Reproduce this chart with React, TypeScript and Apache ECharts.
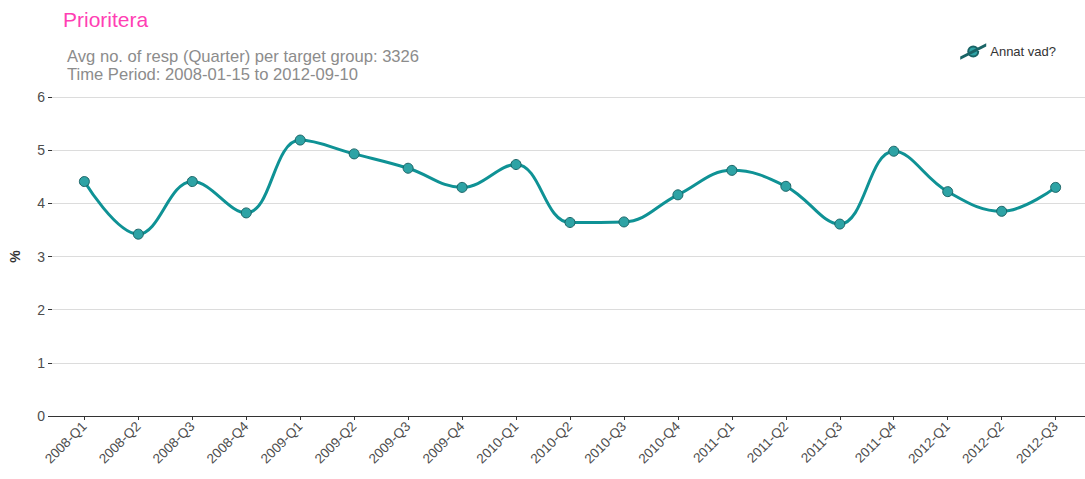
import React, { useEffect, useRef } from "react";
import * as echarts from "echarts";

const categories = [
  "2008-Q1", "2008-Q2", "2008-Q3", "2008-Q4",
  "2009-Q1", "2009-Q2", "2009-Q3", "2009-Q4",
  "2010-Q1", "2010-Q2", "2010-Q3", "2010-Q4",
  "2011-Q1", "2011-Q2", "2011-Q3", "2011-Q4",
  "2012-Q1", "2012-Q2", "2012-Q3",
];
const seriesName = "Annat vad?";
const values = [
  4.41, 3.42, 4.41, 3.82,
  5.19, 4.93, 4.66, 4.30,
  4.73, 3.64, 3.65, 4.16,
  4.62, 4.32, 3.61, 4.98,
  4.22, 3.85, 4.30,
];
const yTicks = [0, 1, 2, 3, 4, 5, 6];
const titleText = "Prioritera";
const subtitleLines = [
  "Avg no. of resp (Quarter) per target group: 3326",
  "Time Period: 2008-01-15 to 2012-09-10",
];

const FONT = "Liberation Sans, Arial, sans-serif";

export default function App() {
  const ref = useRef<HTMLDivElement>(null);
  useEffect(() => {
    if (!ref.current) return;
    const chart = echarts.init(ref.current, undefined, { renderer: "svg" });
    const idx = categories.map((_, i) => i);
    chart.setOption({
      animation: false,
      backgroundColor: "#ffffff",
      title: [
        {
          text: titleText,
          left: 58,
          top: 4,
          textStyle: { color: "#ff3fb4", fontSize: 21, fontWeight: "normal", fontFamily: FONT },
        },
        {
          text: subtitleLines.join("\n"),
          left: 62,
          top: 42,
          textStyle: {
            color: "#8c8c8c",
            fontSize: 16.6,
            lineHeight: 18,
            fontWeight: "normal",
            fontFamily: FONT,
          },
        },
      ],
      legend: {
        right: 24,
        top: 39,
        itemWidth: 24,
        itemHeight: 14,
        itemGap: 4,
        icon: "path://M0,13.2 L24,1 L24,2 L0,14.2 Z M12,7.6 m-5,0 a5,5 0 1,0 10,0 a5,5 0 1,0 -10,0",
        textStyle: { color: "#333333", fontSize: 13, fontFamily: FONT },
        data: [seriesName],
      },
      grid: {
        left: 52,
        right: -3,
        top: 97,
        bottom: 63,
        containLabel: false,
        outerBoundsMode: "none",
      },
      xAxis: {
        type: "value",
        min: -0.6,
        max: 18.6,
        splitLine: { show: false },
        axisLine: { show: true, onZero: false, lineStyle: { color: "#333333", width: 1.2 } },
        axisTick: { show: true, customValues: idx, length: 4, lineStyle: { color: "#333333" } },
        axisLabel: {
          customValues: idx,
          rotate: 45,
          color: "#4d4d4d",
          fontSize: 13.5,
          margin: 8,
          fontFamily: FONT,
          formatter: (v: number) => categories[Math.round(v)] ?? "",
        },
      },
      yAxis: {
        type: "value",
        min: 0,
        max: 6,
        interval: 1,
        name: "%",
        nameLocation: "middle",
        nameGap: 30,
        nameRotate: 90,
        nameTextStyle: { color: "#333333", fontSize: 14, fontWeight: "bold", fontFamily: FONT },
        axisLine: { show: false, onZero: false },
        axisTick: { show: true, length: 4, lineStyle: { color: "#333333" } },
        axisLabel: {
          color: "#4d4d4d",
          fontSize: 14,
          margin: 7,
          fontFamily: FONT,
          formatter: (v: number) => (yTicks.includes(v) ? String(v) : ""),
        },
        splitLine: { show: true, lineStyle: { color: "#dcdcdc", width: 1 } },
      },
      series: [
        {
          name: seriesName,
          type: "line",
          smooth: 0.4,
          data: values.map((v, i) => [i, v]),
          lineStyle: { color: "#0f9295", width: 3 },
          symbol: "circle",
          symbolSize: 10,
          itemStyle: { color: "#2ea3a5", borderColor: "#1a6466", borderWidth: 1 },
          z: 3,
        },
      ],
      color: ["#0f9295"],
    });
    return () => chart.dispose();
  }, []);
  return (
    <div
      ref={ref}
      style={{ position: "absolute", left: 0, top: 0, width: 1085, height: 479 }}
    />
  );
}
